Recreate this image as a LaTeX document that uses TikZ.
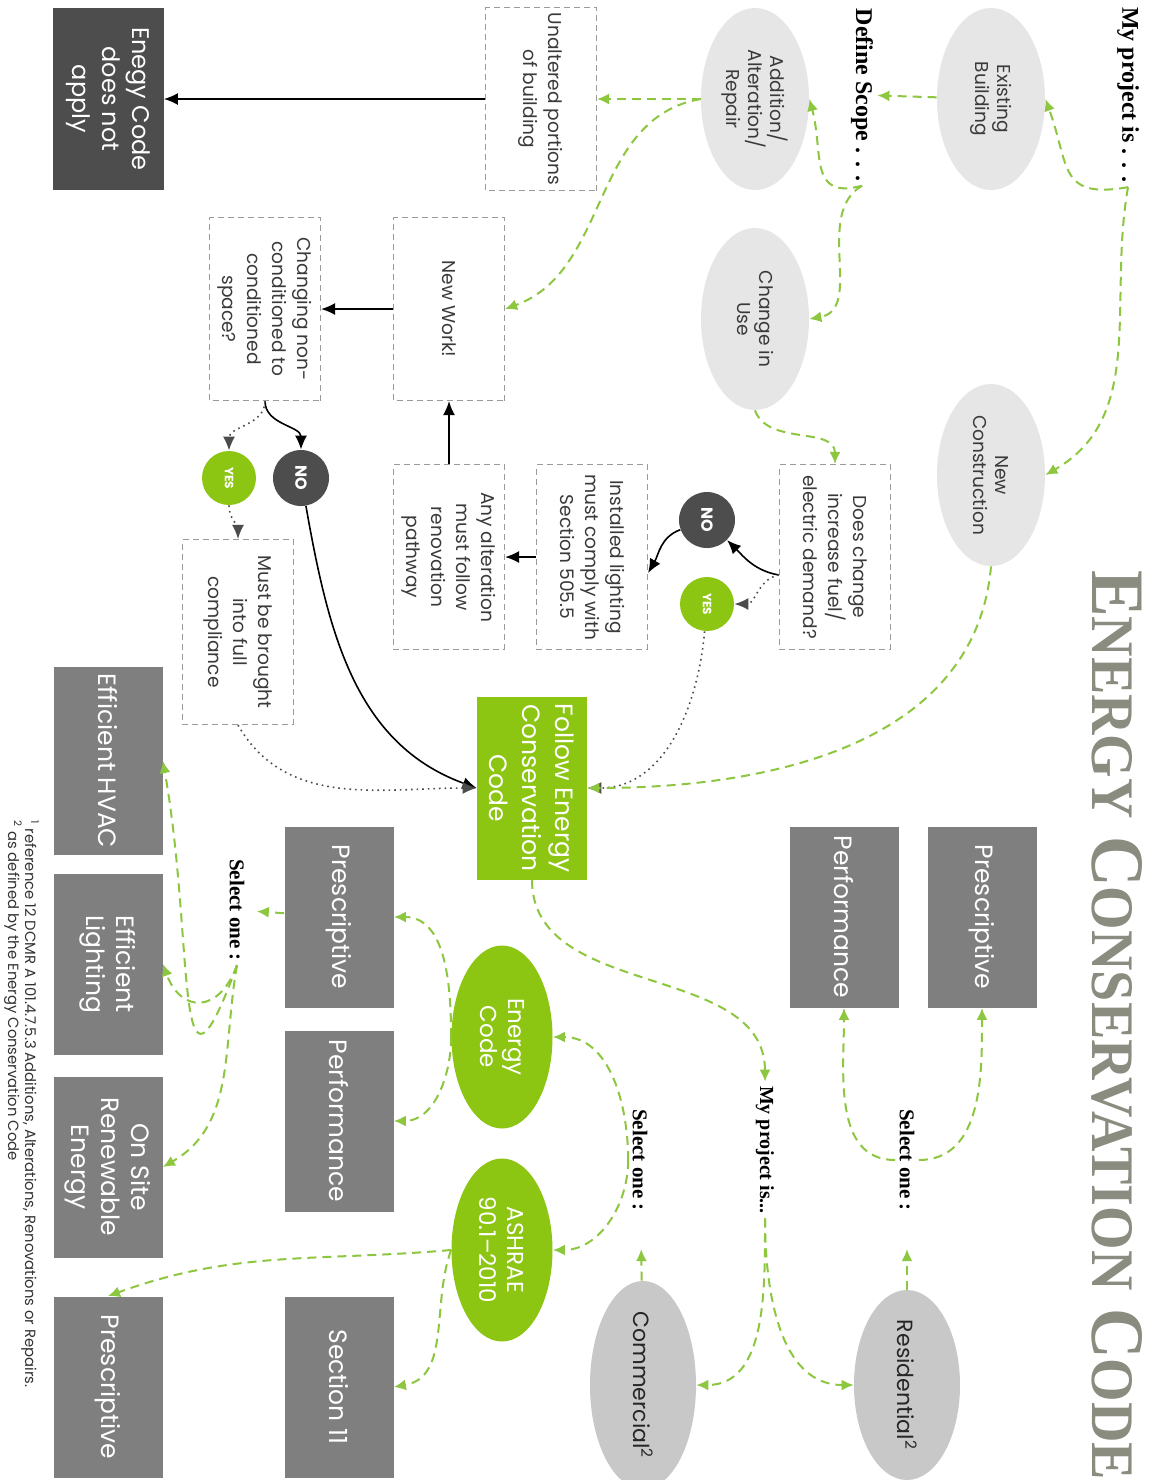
\documentclass[tikz,border=0pt]{standalone}
\usepackage{fontspec}
\usepackage{graphicx}
\setmainfont{Poppins}
\newfontfamily\labelserif{Liberation Serif}
\usetikzlibrary{shapes.geometric,arrows.meta}

\definecolor{codegreen}{HTML}{8CC612}
\definecolor{flowgreen}{HTML}{8DC63F}
\definecolor{darkfill}{HTML}{4D4D4D}
\definecolor{midfill}{HTML}{7F7F7F}
\definecolor{lightell}{HTML}{E6E6E6}
\definecolor{typeell}{HTML}{C8C8C8}
\definecolor{boxline}{HTML}{9A9A9A}
\definecolor{boxtext}{HTML}{3A3A3A}
\definecolor{titlegray}{HTML}{8A8C80}

\tikzset{
  scopeell/.style={ellipse, fill=lightell, minimum width=91pt, minimum height=54pt, inner sep=0pt,
    align=center, text=boxtext, font=\fontsize{9.3}{11}\selectfont},
  typenode/.style={ellipse, fill=typeell, minimum width=95pt, minimum height=53pt, inner sep=0pt,
    align=center, text=black!85, font=\fontsize{11}{13}\selectfont},
  greenell/.style={ellipse, fill=codegreen, minimum width=91.5pt, minimum height=50.5pt, inner sep=0pt,
    align=center, text=white, font=\fontsize{11.5}{14}\selectfont},
  dashbox/.style={rectangle, draw=boxline, line width=0.6pt, dash pattern=on 3pt off 2pt,
    minimum width=91.5pt, minimum height=55.5pt, inner sep=2pt, align=center, text=boxtext,
    font=\fontsize{9.3}{12.5}\selectfont},
  darkbox/.style={rectangle, fill=darkfill, minimum width=91pt, minimum height=55.5pt,
    align=center, text=white, font=\fontsize{12}{15}\selectfont},
  graybox/.style={rectangle, fill=midfill, minimum width=90.5pt, minimum height=54.5pt,
    align=center, text=white, font=\fontsize{12.5}{15}\selectfont},
  greenbox/.style={rectangle, fill=codegreen, minimum width=91.5pt, minimum height=55pt,
    align=center, text=white, font=\fontsize{12.5}{16.5}\selectfont},
  yesnode/.style={circle, fill=codegreen, minimum size=27pt, inner sep=0pt, text=white,
    font=\bfseries\fontsize{6}{6}\selectfont},
  nonode/.style={circle, fill=darkfill, minimum size=28pt, inner sep=0pt, text=white,
    font=\bfseries\fontsize{8}{8}\selectfont},
  labeltext/.style={inner sep=2pt, font=\labelserif\bfseries\fontsize{12}{12}\selectfont},
  notetext/.style={inner sep=0pt, anchor=west, text=black!80, font=\fontsize{7.4}{8}\selectfont},
  gflow/.style={draw=flowgreen, line width=1pt, dash pattern=on 4.5pt off 3pt,
    -{Latex[length=6pt,width=5.5pt]}},
  solidarr/.style={draw=black, line width=0.8pt, -{Latex[length=7pt,width=6pt]}},
  dotarr/.style={draw=black!70, line width=0.8pt, dotted, -{Latex[length=7pt,width=6pt]}}
}

\begin{document}
\begin{tikzpicture}[x=0.5pt,y=0.5pt]
\fill[white] (0,0) rectangle (1155,-1480);
\useasboundingbox (0,0) rectangle (1155,-1480);
\begin{scope}[rotate=-90, transform shape]
  \node[labeltext] (myproj) at (95,1128) {My project is . . .};
  \node[scopeell] (exist) at (99,991) {Existing\\Building};
  \node[scopeell] (newcon) at (475,991) {New\\Construction};
  \node[labeltext] (defscope) at (95,862) {Define Scope . . .};
  \node[scopeell] (addalt) at (99,755) {Addition/\\Alteration/\\Repair};
  \node[scopeell] (chuse) at (319,755) {Change in\\Use};
  \node[dashbox] (unalt) at (99,541) {Unaltered portions\\of building};
  \node[darkbox] (noapply) at (99,108) {Enegy Code\\does not\\apply};
  \node[dashbox] (newwork) at (309,449) {New Work!};
  \node[dashbox] (changing) at (309,265) {Changing non-\\conditioned to\\conditioned\\space?};
  \node[dashbox, minimum width=92.5pt] (doeschange) at (557,835) {Does change\\increase fuel/\\electric demand?};
  \node[nonode] (nofuel) at (520,707) {NO};
  \node[yesnode] (yesfuel) at (604,707) {YES};
  \node[dashbox, minimum width=92.5pt] (installed) at (557,592) {Installed lighting\\must comply with\\Section 505.5};
  \node[dashbox, minimum width=92.5pt] (anyalt) at (557,449) {Any alteration\\must follow\\renovation\\pathway};
  \node[nonode] (nocond) at (478,301) {NO};
  \node[yesnode] (yescond) at (478,229) {YES};
  \node[dashbox, minimum width=92.5pt] (mustbe) at (632,238) {Must be brought\\into full\\compliance};
  \node[greenbox] (follow) at (788,532) {Follow Energy\\Conservation\\Code};

  \node[labeltext, font=\labelserif\bfseries\fontsize{10}{10}\selectfont] (myproj2) at (1150,765) {My project is...};
  \node[typenode] (resid) at (1385,907) {Residential\textsuperscript{2}};
  \node[typenode] (comm) at (1385,643) {Commercial\textsuperscript{2}};
  \node[labeltext, font=\labelserif\bfseries\fontsize{10.5}{10.5}\selectfont] (selres) at (1160,907) {Select one :};
  \node[labeltext, font=\labelserif\bfseries\fontsize{10.5}{10.5}\selectfont] (selcom) at (1160,640) {Select one :};
  \node[graybox] (rpres) at (917,982) {Prescriptive};
  \node[graybox] (rperf) at (917,844) {Performance};
  \node[greenell] (ecode) at (1037,502) {Energy\\Code};
  \node[greenell] (ashrae) at (1250,502) {ASHRAE\\90.1--2010};
  \node[graybox] (cpres) at (917,339) {Prescriptive};
  \node[graybox] (cperf) at (1121,339) {Performance};
  \node[graybox] (sectel) at (1387,339) {Section 11};
  \node[graybox] (bpres) at (1387,108) {Prescriptive};
  \node[labeltext, font=\labelserif\bfseries\fontsize{10.5}{10.5}\selectfont] (selopt) at (910,237) {Select one :};
  \node[graybox] (hvac) at (761,108) {Efficient HVAC};
  \node[graybox] (light) at (964,108) {Efficient\\Lighting};
  \node[graybox] (renew) at (1167,108) {On Site\\Renewable\\Energy};

  \node[notetext] (fnone) at (820,30) {\textsuperscript{1} reference 12 DCMR A 101.4.7.5.3 Additions, Alterations, Renovations or Repairs.};
  \node[notetext] (fntwo) at (820,13) {\textsuperscript{2} as defined by the Energy Conservation Code};
  \node[inner sep=0pt, text=titlegray, font=\labelserif\bfseries] (title) at (1025,1117)
    {\resizebox{455pt}{25pt}{\fontsize{30}{30}\selectfont E{\fontsize{24}{24}\selectfont NERGY} C{\fontsize{24}{24}\selectfont ONSERVATION} C{\fontsize{24}{24}\selectfont ODE}}};

  \draw[solidarr] (unalt) -- (noapply);
  \draw[gflow] (exist) -- (defscope);
  \draw[gflow] (myproj.east) to[out=-80,in=20,looseness=1.5] (exist.north);
  \draw[gflow] (myproj.east) to[out=-10,in=120] (newcon.north);
  \draw[gflow] (defscope.east) to[out=-75,in=15,looseness=1.4] (addalt.north);
  \draw[gflow] (defscope.east) to[out=-60,in=100] (chuse.north);
  \draw[gflow] (addalt) -- (unalt);
  \draw[gflow] (addalt.south) to[out=-80,in=110] (newwork.north);
  \draw[gflow] (chuse.east) to[out=20,in=180] (doeschange.west);
  \draw[solidarr] ([xshift=9pt]doeschange.south) to[out=-100,in=45] (nofuel);
  \draw[dotarr] ([xshift=9pt]doeschange.south) to[out=-80,in=90] (yesfuel);
  \draw[solidarr] (nofuel) to[out=-70,in=150] ([xshift=8pt]installed.north);
  \draw[solidarr] (installed) -- (anyalt);
  \draw[solidarr] (anyalt) -- (newwork);
  \draw[solidarr] (newwork) -- (changing);
  \draw[dotarr] (yesfuel) to[out=-5,in=90] (follow.north);
  \draw[gflow] (newcon.east) to[out=-5,in=90] (follow.north);
  \draw[solidarr] (changing.east) to[out=0,in=180] (nocond);
  \draw[dotarr] (changing.east) to[out=0,in=180] (yescond);
  \draw[dotarr] (yescond) to[out=0,in=180] (mustbe.west);
  \draw[solidarr] (nocond) to[out=10,in=-110] (follow.south);
  \draw[dotarr] (mustbe.east) to[out=30,in=-90] (follow.south);
  \draw[gflow] (follow.east) to[out=0,in=180] (myproj2.west);
  \draw[gflow] (myproj2.east) to[out=0,in=-90] (resid.south);
  \draw[gflow] (myproj2.east) to[out=0,in=90] (comm.north);
  \draw[gflow, shorten >=17pt] (resid) -- (selres);
  \draw[gflow, shorten >=17pt] (comm) -- (selcom);
  \draw[gflow] (selres.north) to[out=90,in=0] (rpres.east);
  \draw[gflow] (selres.south) to[out=-90,in=0] (rperf.east);
  \draw[gflow] (selcom.south) to[out=180,in=90] (ecode.north);
  \draw[gflow] (selcom.south) to[out=0,in=90] (ashrae.north);
  \draw[gflow] (ecode.south) to[out=180,in=90] (cpres.north);
  \draw[gflow] (ecode.south) to[out=0,in=90] (cperf.north);
  \draw[gflow] (ashrae.south) to[out=-20,in=100] (sectel.north);
  \draw[gflow] (ashrae.south) to[out=-85,in=110] (bpres.west);
  \draw[gflow, shorten >=4pt] (cpres) -- (selopt);
  \draw[gflow] (selopt.east) to[out=-20,in=10,looseness=2.2] (hvac.north);
  \draw[gflow] (selopt.east) to[out=-20,in=20,looseness=1.8] (light.north);
  \draw[gflow] (selopt.east) to[out=-10,in=120] (renew.north);
\end{scope}
\end{tikzpicture}
\end{document}
